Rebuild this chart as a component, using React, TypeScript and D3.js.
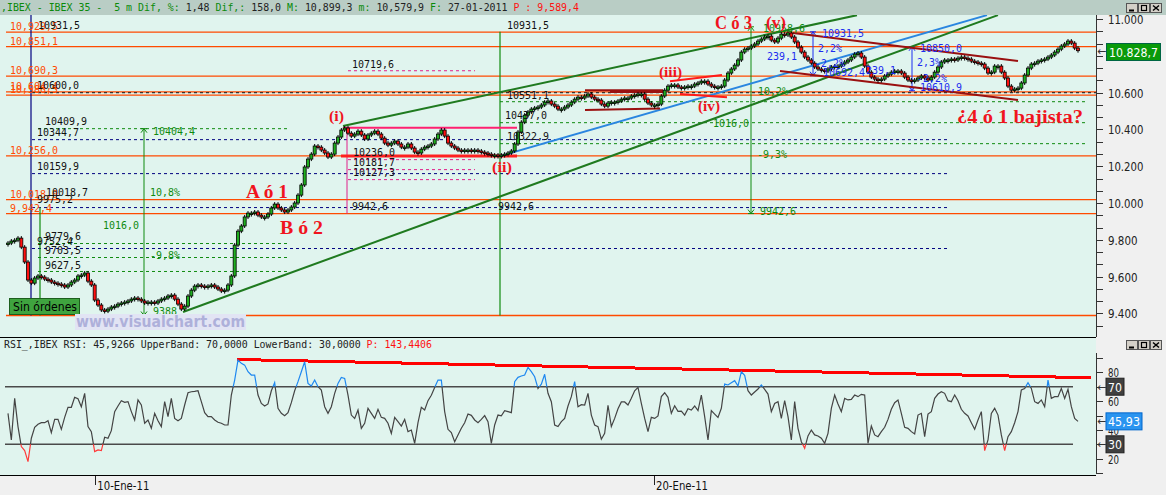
import React from 'react';
import * as d3 from 'd3';

const MONO = "'DejaVu Sans Mono', monospace";
const SANS = "'DejaVu Sans', sans-serif";
const SERIF = "'Liberation Serif', 'DejaVu Serif', serif";

// 5 min closes, IBEX 35
const closes = [
  9782, 9793, 9798, 9809, 9760, 9679, 9581, 9564, 9592, 9603,
  9597, 9586, 9581, 9570, 9564, 9559, 9554, 9543, 9554, 9570,
  9581, 9603, 9608, 9619, 9575, 9554, 9472, 9445, 9418, 9412,
  9423, 9434, 9439, 9450, 9456, 9461, 9467, 9477, 9483, 9477,
  9467, 9456, 9461, 9461, 9456, 9467, 9477, 9483, 9494, 9499,
  9477, 9450, 9423, 9439, 9494, 9526, 9548, 9554, 9548, 9543,
  9548, 9554, 9543, 9532, 9521, 9526, 9554, 9603, 9771, 9847,
  9875, 9924, 9945, 9945, 9951, 9934, 9924, 9924, 9940, 9973,
  9994, 9973, 9962, 9951, 9962, 9978, 10000, 10043, 10098, 10196,
  10239, 10266, 10310, 10304, 10288, 10272, 10250, 10266, 10326, 10359,
  10397, 10408, 10380, 10364, 10375, 10391, 10370, 10348, 10370, 10380,
  10391, 10375, 10353, 10326, 10315, 10326, 10337, 10321, 10304, 10304,
  10321, 10299, 10277, 10272, 10293, 10304, 10310, 10321, 10348, 10375,
  10397, 10364, 10326, 10310, 10299, 10288, 10283, 10288, 10288, 10283,
  10288, 10283, 10277, 10272, 10266, 10261, 10261, 10255, 10261, 10266,
  10272, 10283, 10321, 10386, 10440, 10478, 10495, 10511, 10517, 10522,
  10533, 10549, 10555, 10538, 10527, 10511, 10511, 10522, 10533, 10549,
  10565, 10576, 10571, 10582, 10593, 10576, 10565, 10560, 10538, 10527,
  10544, 10549, 10549, 10555, 10565, 10571, 10571, 10582, 10587, 10593,
  10593, 10565, 10544, 10533, 10533, 10538, 10582, 10614, 10636, 10642,
  10642, 10631, 10625, 10631, 10636, 10636, 10647, 10653, 10663, 10663,
  10647, 10636, 10631, 10631, 10636, 10669, 10707, 10729, 10750, 10778,
  10821, 10837, 10843, 10854, 10865, 10881, 10892, 10903, 10908, 10886,
  10876, 10897, 10919, 10914, 10925, 10903, 10876, 10848, 10821, 10794,
  10778, 10761, 10740, 10729, 10723, 10718, 10729, 10740, 10745, 10745,
  10756, 10767, 10778, 10794, 10810, 10816, 10794, 10745, 10712, 10685,
  10674, 10669, 10674, 10691, 10701, 10712, 10718, 10718, 10707, 10685,
  10669, 10663, 10669, 10680, 10691, 10680, 10669, 10685, 10712, 10740,
  10767, 10778, 10778, 10783, 10778, 10788, 10794, 10788, 10783, 10772,
  10767, 10761, 10756, 10734, 10707, 10712, 10745, 10745, 10712, 10680,
  10636, 10614, 10620, 10625, 10653, 10696, 10734, 10756, 10761, 10772,
  10778, 10783, 10794, 10805, 10821, 10837, 10854, 10865, 10881, 10870,
  10843, 10828.7,
];

const rsiValues = [
  51.5, 33.0, 61.9, 42.3, 28.4, 25.6, 18.0, 34.2, 41.8, 43.9,
  45.0, 45.0, 46.4, 38.1, 47.3, 47.3, 40.4, 48.7, 55.7, 55.7,
  62.6, 61.7, 56.1, 65.4, 42.3, 38.8, 24.9, 26.1, 25.6, 34.9,
  34.2, 39.5, 52.7, 56.6, 60.3, 59.1, 59.6, 52.7, 46.9, 60.8,
  57.3, 44.6, 46.9, 41.1, 51.5, 46.4, 42.3, 59.6, 49.2, 61.9,
  48.0, 46.4, 48.0, 57.3, 65.8, 66.5, 66.8, 67.2, 59.6, 52.0,
  49.2, 49.2, 46.9, 45.3, 44.6, 43.4, 43.4, 64.2, 74.6, 88.5,
  86.2, 85.0, 80.4, 78.1, 78.1, 64.2, 58.4, 56.6, 58.0, 67.2,
  72.8, 55.0, 51.5, 49.9, 52.0, 58.9, 67.2, 73.5, 80.4, 87.3,
  72.3, 70.5, 74.6, 70.0, 67.7, 56.1, 51.5, 56.1, 65.4, 72.3,
  76.5, 75.8, 64.2, 50.3, 48.0, 53.8, 41.1, 44.6, 55.0, 51.5,
  48.0, 54.3, 48.7, 48.0, 44.6, 37.6, 48.7, 45.7, 42.7, 47.3,
  38.8, 39.9, 30.7, 45.0, 55.7, 53.8, 60.3, 64.0, 69.5, 74.6,
  74.6, 52.7, 40.4, 38.1, 31.8, 36.5, 41.1, 45.0, 51.0, 50.1,
  46.9, 45.0, 47.3, 49.9, 45.7, 30.7, 43.4, 50.3, 49.7, 53.4,
  52.7, 52.0, 73.5, 76.5, 77.4, 78.1, 83.4, 80.4, 76.9, 68.8,
  71.8, 78.6, 65.4, 59.6, 43.4, 42.3, 45.7, 48.0, 56.6, 63.1,
  73.5, 56.1, 57.5, 57.3, 65.4, 50.3, 43.4, 42.3, 33.5, 37.6,
  57.1, 42.3, 48.0, 54.7, 59.4, 59.4, 57.3, 61.9, 67.2, 69.5,
  58.4, 48.0, 38.8, 48.7, 48.0, 49.7, 63.1, 65.8, 62.6, 51.5,
  56.8, 52.9, 53.1, 50.3, 54.7, 53.8, 56.6, 53.4, 64.2, 49.2,
  33.0, 53.4, 51.0, 48.7, 55.0, 71.8, 71.2, 72.8, 74.2, 70.5,
  80.4, 77.9, 67.2, 64.2, 66.3, 68.4, 71.2, 68.2, 64.9, 52.7,
  58.4, 59.6, 48.0, 60.3, 49.2, 33.0, 59.6, 41.1, 31.8, 27.2,
  35.8, 39.9, 36.5, 35.8, 34.2, 30.7, 37.6, 55.0, 64.2, 58.0,
  52.7, 61.9, 60.8, 61.2, 64.2, 63.1, 64.7, 64.2, 30.7, 42.7,
  36.5, 35.3, 38.8, 41.8, 47.3, 54.3, 58.9, 60.8, 51.5, 41.8,
  41.1, 38.8, 37.2, 50.3, 51.5, 35.3, 51.0, 52.7, 61.9, 64.9,
  66.5, 65.4, 60.3, 59.6, 64.2, 60.3, 54.3, 51.5, 49.7, 45.0,
  40.4, 46.9, 52.7, 25.6, 33.0, 51.5, 55.0, 50.3, 36.5, 25.6,
  35.3, 38.8, 45.0, 52.7, 67.7, 68.8, 72.8, 68.8, 59.6, 58.4,
  60.8, 56.1, 74.6, 61.9, 63.1, 63.1, 68.8, 61.9, 68.2, 56.1,
  48.0, 45.93,
];

const priceLabels = [9400, 9600, 9800, 10000, 10200, 10400, 10600, 10800, 11000];
const rsiLabels = [20, 40, 60, 80];
const dateLabels = [{ i: 26.2, t: '10-Ene-11' }, { i: 193.8, t: '20-Ene-11' }];

// horizontal levels drawn by the analyst
const orangeLevels = [10929.5, 10851.1, 10690.3, 10604.4, 10586.5, 10256.0, 10018.0, 9942.4, 9388.0];
const orangeText = ['10,929,5', '10,851,1', '10,690,3', '10,604,4', '10,586,5', '10,256,0', '10,018,0', '9,942,4', ''];
const navyLevels = [10344.7, 10159.9, 9975.2, 9752.4];
const greenLevelsA = [10404.4, 9779.6, 9703.5, 9627.5];
const greenLevelsB = [10551.1, 10437.0, 10322.9];
const pinkLevels = [10719.6, 10236.0, 10181.7, 10127.3];

// trend lines as [index1, price1, index2, price2]
const greenTrends = [[52.5, 9407, 297, 11022], [100.5, 10419, 254.7, 11022]];
const blueTrend = [147.6, 10255, 293.7, 11022];
const maroonTrends = [
  [235.5, 10925, 303, 10772], [231.6, 10718, 303, 10560],
  [173.1, 10614, 196.5, 10614], [180.6, 10604, 196.5, 10604], [173.1, 10506, 195.6, 10514],
];
const redTrends = [[198.6, 10663, 214.2, 10696], [201.6, 10593, 215.7, 10576]];
const rsiTrend = [68.7, 88.9, 325, 76.2];

const x = d3.scaleLinear().domain([0, closes.length - 1]).range([8, 1078]);
const y = d3.scaleLinear().domain([9400, 11000]).range([313.3, 19.2]);
const ry = d3.scaleLinear().domain([30, 70]).range([444.3, 386.7]);

const ORANGE = '#ff4a00';
const GREEN = '#0f8a0f';
const NAVY = '#000080';
const BLUE = '#1c2cf0';
const RED = '#f0141e';
const PINK = '#e0208a';
const MINT = '#e0f4ee';
const GRAY = '#f0f0f0';

function T({ x, y, t, c = '#111', s = 11, w = 6, f = MONO, b = false }: any) {
  return (
    <text x={x} y={y} fill={c} fontSize={s} fontFamily={f} fontWeight={b ? 'bold' : 'normal'}
      textLength={w} lengthAdjust="spacingAndGlyphs" style={{ whiteSpace: 'pre' }}>{t}</text>
  );
}
const L = (t: string, cw = 6) => t.length * cw;

function Buttons({ top }: { top: number }) {
  return (
    <g>
      {[1126, 1138, 1150].map((bx, k) => (
        <g key={k}>
          <rect x={bx + 0.5} y={top + 0.5} width={11} height={9} fill="#d4d0c8" stroke="#555" strokeWidth={1} />
          {k === 0 && <line x1={bx + 3} x2={bx + 8} y1={top + 7.5} y2={top + 7.5} stroke="#000" strokeWidth={2} />}
          {k === 1 && <rect x={bx + 3.5} y={top + 2.5} width={5} height={5} fill="none" stroke="#000" strokeWidth={1.2} />}
          {k === 2 && <path d={`M${bx + 3},${top + 2.5}L${bx + 9},${top + 7.5}M${bx + 9},${top + 2.5}L${bx + 3},${top + 7.5}`} stroke="#000" strokeWidth={1.5} />}
        </g>
      ))}
    </g>
  );
}

function VArrow({ i, p1, p2, color }: { i: number; p1: number; p2: number; color: string }) {
  const xx = x(i), a = y(p1), b = y(p2);
  return (
    <g stroke={color} fill="none" strokeWidth={1}>
      <line x1={xx} x2={xx} y1={a} y2={b} />
      <path d={`M${xx - 3},${a + 4}L${xx},${a}L${xx + 3},${a + 4}M${xx - 3},${a}H${xx + 3}`} />
      <path d={`M${xx - 3},${b - 4}L${xx},${b}L${xx + 3},${b - 4}M${xx - 3},${b}H${xx + 3}`} />
    </g>
  );
}

export default function App() {
  const rsiLine = d3.line<number>().x((_, i) => x(i)).y((v) => ry(v))(rsiValues) || '';
  const seg = (s: number[]) => ({ x1: x(s[0]), y1: y(s[1]), x2: x(s[2]), y2: y(s[3]) });
  const minorTicks = d3.range(9400 - 200 / 3, 11001, 200 / 3);
  const rsiTicks = d3.range(10, 91, 10);
  const xEnd = x.invert(1096);

  const blackLbl: [string, number, number][] = [
    ['10931,5', 38, 29], ['10600,0', 37, 89], ['10409,9', 45, 125], ['10344,7', 37, 136],
    ['10159,9', 37, 170], ['10018,7', 46, 196], ['9975,2', 37, 203], ['9779,6', 45, 240],
    ['9752,4', 37, 245], ['9703,5', 45, 254], ['9627,5', 45, 269], ['10719,6', 352, 68],
    ['10236,0', 353, 156], ['10181,7', 353, 166], ['10127,3', 353, 176], ['9942,6', 352, 210],
    ['10931,5', 507, 29], ['10551,1', 507, 99], ['10437,0', 505, 119], ['10322,9', 507, 140],
    ['9942,6', 498, 210],
  ];
  const greenLbl: [string, number, number][] = [
    ['10404,4', 153, 135], ['10,8%', 150, 196], ['1016,0', 103, 229], ['-9,8%', 150, 259],
    ['9388', 153, 315], ['10958,6', 763, 32], ['10,2%', 758, 95], ['1016,0', 713, 127],
    ['-9,3%', 757, 158], ['9942,6', 760, 215],
  ];
  const blueLbl: [string, number, number][] = [
    ['10931,5', 822, 37], ['2,2%', 818, 52], ['239,1', 767, 60], ['-2,2%', 815, 67],
    ['10692,4', 823, 76], ['239,1', 866, 74], ['10850,0', 920, 52], ['2,3%', 917, 66],
    ['-2,2%', 917, 82], ['10610,9', 920, 91],
  ];
  const redLbl: [string, number, number, number, number][] = [
    ['A ó 1', 246, 198, 18, 42], ['B ó 2', 280, 234, 18, 43], ['C ó 3', 715, 29, 19, 37],
    ['(v)', 766, 28, 16, 20], ['(i)', 329, 121, 15, 15], ['(ii)', 492, 172, 15, 20],
    ['(iii)', 659, 77, 15, 23], ['(iv)', 698, 111, 15, 22],
  ];

  return (
    <svg width={1166} height={495} style={{ position: 'fixed', left: 0, top: 0, display: 'block' }}>
      <defs>
        <clipPath id="pc"><rect x={0} y={15} width={1096} height={322} /></clipPath>
        <clipPath id="rHi"><rect x={0} y={338} width={1096} height={ry(70) - 338} /></clipPath>
        <clipPath id="rMid"><rect x={0} y={ry(70)} width={1096} height={ry(30) - ry(70)} /></clipPath>
        <clipPath id="rLo"><rect x={0} y={ry(30)} width={1096} height={475 - ry(30)} /></clipPath>
      </defs>

      {/* backgrounds */}
      <rect x={0} y={0} width={1166} height={495} fill={GRAY} />
      <rect x={0} y={15} width={1096} height={322} fill={MINT} />
      <rect x={0} y={338} width={1096} height={137} fill={MINT} />

      <g clipPath="url(#pc)">
        {/* orange levels */}
        {orangeLevels.map((p, k) => (
          <line key={k} x1={x(-0.6)} x2={x(xEnd)} y1={y(p)} y2={y(p)} stroke={ORANGE} strokeWidth={1.3} />
        ))}
        <line x1={x(7.2)} x2={x(xEnd)} y1={y(10600)} y2={y(10600)} stroke="#111" strokeDasharray="3,3" />
        {navyLevels.map((p, k) => (
          <line key={k} x1={x(7.2)} x2={x(282.6)} y1={y(p)} y2={y(p)} stroke={NAVY} strokeDasharray="3,3" />
        ))}
        {greenLevelsA.map((p, k) => (
          <line key={k} x1={x(9)} x2={x(83.7)} y1={y(p)} y2={y(p)} stroke={GREEN} strokeDasharray="3,3" />
        ))}
        {greenLevelsB.map((p, k) => (
          <line key={k} x1={x(147.6)} x2={x(323.1)} y1={y(p)} y2={y(p)} stroke={GREEN} strokeDasharray="3,3" />
        ))}
        {pinkLevels.map((p, k) => (
          <line key={k} x1={x(102)} x2={x(140.1)} y1={y(p)} y2={y(p)} stroke={PINK} strokeDasharray="3,3" />
        ))}

        {/* verticals */}
        <line x1={x(6.9)} x2={x(6.9)} y1={15} y2={y(9388)} stroke={NAVY} strokeWidth={1.2} />
        <line x1={x(9.6)} x2={x(9.6)} y1={y(9975.2)} y2={y(9388)} stroke={GREEN} strokeWidth={1.2} />
        <line x1={x(147.6)} x2={x(147.6)} y1={y(10931.5)} y2={y(9388)} stroke={GREEN} strokeWidth={1.2} />
        <line x1={x(101.7)} x2={x(101.7)} y1={y(10409.9)} y2={y(9942.6)} stroke={PINK} strokeWidth={1} />
        <VArrow i={40.8} p1={10404.4} p2={9388} color={GREEN} />
        <VArrow i={222.9} p1={10958.6} p2={9942.6} color={GREEN} />
        <VArrow i={241.5} p1={10931.5} p2={10692.4} color={BLUE} />
        <VArrow i={271.2} p1={10850.0} p2={10610.9} color={BLUE} />

        {/* support / resistance segments */}
        <line x1={x(100.5)} x2={x(152.7)} y1={y(10409.9)} y2={y(10409.9)} stroke="#ff2070" strokeWidth={2} />
        <line x1={x(99.9)} x2={x(152.7)} y1={y(10256)} y2={y(10256)} stroke="#ff2020" strokeWidth={3} />
        {greenTrends.map((s, k) => <line key={k} {...seg(s)} stroke="#1f7a1f" strokeWidth={2} />)}
        <line {...seg(blueTrend)} stroke="#2a86e0" strokeWidth={2} />
        {maroonTrends.map((s, k) => <line key={k} {...seg(s)} stroke="#9a1010" strokeWidth={2} />)}
        {redTrends.map((s, k) => <line key={k} {...seg(s)} stroke="#ff1a1a" strokeWidth={2} />)}

        {/* candles */}
        {closes.map((c, i) => {
          const o = i === 0 ? c : closes[i - 1];
          const top = y(Math.max(o, c));
          const h = Math.max(y(Math.min(o, c)) - top, 1.5);
          const xx = x(i);
          return (
            <g key={i}>
              <line x1={xx} x2={xx} y1={top - 2} y2={top + h + 2} stroke="#000" strokeWidth={1} />
              <rect x={xx - 1.5} y={top} width={3} height={h} fill={c >= o ? '#1fae1f' : '#ff1010'} stroke="#000" strokeWidth={0.8} />
            </g>
          );
        })}
      </g>

      {/* level labels */}
      {orangeLevels.map((p, k) => orangeText[k] && (
        <T key={k} x={10} y={y(p) - 2} t={orangeText[k]} c={ORANGE} w={L(orangeText[k])} />
      ))}
      {blackLbl.map(([t, lx, ly], k) => <T key={k} x={lx} y={ly} t={t} c="#111" w={L(t)} />)}
      {greenLbl.map(([t, lx, ly], k) => <T key={k} x={lx} y={ly} t={t} c={GREEN} w={L(t)} />)}
      {blueLbl.map(([t, lx, ly], k) => <T key={k} x={lx} y={ly} t={t} c={BLUE} w={L(t)} />)}
      {redLbl.map(([t, lx, ly, s, w], k) => <T key={k} x={lx} y={ly} t={t} c={RED} s={s} w={w} f={SERIF} b />)}
      <text x={957} y={123} fill={RED} fontSize={18} fontFamily={SERIF} fontWeight="bold"
        textLength={126} lengthAdjust="spacingAndGlyphs" style={{ whiteSpace: 'pre' }}>
        <tspan dy={-4}>¿</tspan><tspan dy={4}>4 ó 1 bajista?</tspan>
      </text>

      {/* Sin órdenes + watermark */}
      <rect x={9.5} y={298.5} width={70} height={16} fill="#3fa33f" stroke="#1d5e1d" />
      <T x={13} y={311} t="Sin órdenes" c="#000" s={12} w={64} f={SANS} />
      <rect x={75} y={314} width={171} height={16} fill="#e2e4f4" />
      <T x={76} y={327} t="www.visualchart.com" c="#aeb0da" s={15} w={169} f={SANS} b />

      {/* price axis */}
      <line x1={1096.5} x2={1096.5} y1={15} y2={337} stroke="#333" />
      {minorTicks.map((p, k) => (
        <line key={k} x1={1097} x2={1103} y1={Math.round(y(p)) + 0.5} y2={Math.round(y(p)) + 0.5} stroke="#333" />
      ))}
      {priceLabels.map((p) => {
        const t = d3.format(',')(p).replace(/,/g, '.');
        return <T key={p} x={1108} y={y(p) + 5} t={t} c="#222" s={13} w={L(t, 5.9)} f={SANS} />;
      })}
      <text x={1097} y={55} fontSize={11} fontFamily={SANS} fill="#333">←</text>
      <rect x={1106.5} y={43.5} width={54} height={17} fill="#0a9a0a" stroke="#064" />
      <T x={1109} y={57} t="10.828,7" c="#fff" s={13} w={49} f={SANS} />

      {/* panel separator */}
      <line x1={0} x2={1096} y1={337.5} y2={337.5} stroke="#000" />

      {/* RSI */}
      <text x={4} y={348} fontSize={11} fontFamily={MONO} textLength={428} lengthAdjust="spacingAndGlyphs" style={{ whiteSpace: 'pre' }}>
        <tspan fill="#222">RSI_,IBEX RSI: 45,9266 UpperBand: 70,0000 LowerBand: 30,0000 </tspan>
        <tspan fill="#ff1010">P: 143,4406</tspan>
      </text>
      <line x1={5} x2={1073} y1={ry(70)} y2={ry(70)} stroke="#4a4a4a" strokeWidth={1.5} />
      <line x1={5} x2={1073} y1={ry(30)} y2={ry(30)} stroke="#4a4a4a" strokeWidth={1.5} />
      <line x1={x(rsiTrend[0])} y1={ry(rsiTrend[1])} x2={x(rsiTrend[2])} y2={ry(rsiTrend[3])} stroke="#ff0000" strokeWidth={3} shapeRendering="crispEdges" />
      <path d={rsiLine} fill="none" stroke="#444" strokeWidth={1.2} clipPath="url(#rMid)" />
      <path d={rsiLine} fill="none" stroke="#1e88f0" strokeWidth={1.2} clipPath="url(#rHi)" />
      <path d={rsiLine} fill="none" stroke="#ff3a3a" strokeWidth={1.2} clipPath="url(#rLo)" />

      <line x1={1096.5} x2={1096.5} y1={353} y2={474} stroke="#333" />
      {rsiTicks.map((v) => (
        <line key={v} x1={1097} x2={1103} y1={Math.round(ry(v)) + 0.5} y2={Math.round(ry(v)) + 0.5} stroke="#333" />
      ))}
      {rsiLabels.map((v) => <T key={v} x={1108} y={ry(v) + 5} t={String(v)} c="#222" s={13} w={11} f={SANS} />)}
      {[{ v: 70, t: '70', bg: '#404040', w: 18 }, { v: 45.93, t: '45,93', bg: '#2a94f0', w: 36 }, { v: 30, t: '30', bg: '#404040', w: 18 }].map((b) => (
        <g key={b.t}>
          <text x={1097} y={ry(b.v) + 4} fontSize={11} fontFamily={SANS} fill="#333">←</text>
          <rect x={1106} y={ry(b.v) - 8.5} width={b.w} height={17} fill={b.bg} stroke={b.bg === '#404040' ? '#222' : '#06c'} />
          <T x={1108} y={ry(b.v) + 5} t={b.t} c="#fff" s={13} w={b.w - 4} f={SANS} />
        </g>
      ))}

      {/* date axis */}
      <line x1={0} x2={1096} y1={475.5} y2={475.5} stroke="#000" />
      {dateLabels.map((d) => (
        <g key={d.t}>
          <line x1={Math.round(x(d.i)) + 0.5} x2={Math.round(x(d.i)) + 0.5} y1={476} y2={485} stroke="#222" />
          <T x={x(d.i) + 2} y={490} t={d.t} c="#111" s={12} w={52} f={SANS} />
        </g>
      ))}

      {/* header */}
      <rect x={0} y={0} width={1166} height={15} fill="#b9cdc5" />
      <text x={1} y={11} fontSize={11} fontFamily={MONO} textLength={578} lengthAdjust="spacingAndGlyphs" style={{ whiteSpace: 'pre' }}>
        <tspan fill="#0a8a0a">,IBEX - IBEX 35 -  5 m Dif, %: </tspan>
        <tspan fill="#222">1,48 </tspan>
        <tspan fill="#0a8a0a">Dif,: </tspan>
        <tspan fill="#222">158,0 </tspan>
        <tspan fill="#0a8a0a">M: </tspan>
        <tspan fill="#222">10,899,3 </tspan>
        <tspan fill="#0a8a0a">m: </tspan>
        <tspan fill="#222">10,579,9 </tspan>
        <tspan fill="#0a8a0a">F: </tspan>
        <tspan fill="#222">27-01-2011 </tspan>
        <tspan fill="#ff1010">P : 9,589,4</tspan>
      </text>
      <Buttons top={3} />
      <Buttons top={340} />
    </svg>
  );
}
